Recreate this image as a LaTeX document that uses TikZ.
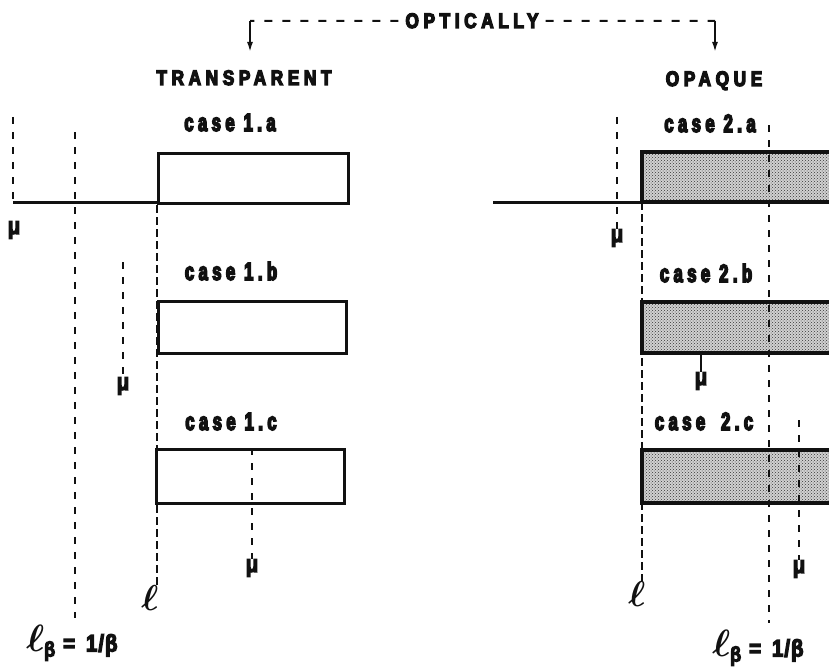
\RequirePackage{fix-cm}
\documentclass[tikz,border=0pt]{standalone}
\usepackage{amsmath,bm}
\usepackage{fontspec}
\usetikzlibrary{arrows.meta,positioning,patterns}
\newfontfamily\headfont{Liberation Sans}[UprightFont=* Bold, FakeStretch=0.82,
  LetterSpace=22, FakeBold=6]
\newfontfamily\casefont{Liberation Sans}[UprightFont=* Bold, FakeStretch=0.66,
  LetterSpace=18, FakeBold=6]
\newfontfamily\symfont{Liberation Sans}[UprightFont=* Bold, FakeStretch=0.85,
  FakeBold=5]
\definecolor{cInk}{HTML}{111111}
\tikzset{
  every picture/.style={line width=0.5pt},
  headlbl/.style={font=\headfont\fontsize{21}{21}\selectfont, text=cInk,
                  inner sep=0pt, anchor=base},
  caselbl/.style={font=\casefont\fontsize{25}{25}\selectfont, text=cInk,
                  inner sep=0pt, anchor=base},
  mulbl/.style={font=\symfont\fontsize{24}{24}\selectfont, text=cInk, inner sep=0pt},
  elllbl/.style={font=\fontsize{36}{36}\selectfont, text=cInk, inner sep=0pt},
  slab/.style={draw=cInk, line width=3.4pt, inner sep=0pt, fill=white},
  shaded/.style={pattern=crosshatch dots, pattern color=cInk!85},
  axisline/.style={draw=cInk, line width=3pt},
  guide/.style={draw=cInk, line width=2pt, dash pattern=on 7pt off 8pt},
  topguide/.style={guide, dash pattern=on 8pt off 10pt},
  lguide/.style={draw=cInk, line width=2.2pt, dash pattern=on 8pt off 4pt},
  pointer/.style={draw=cInk, line width=1.8pt, -{Latex[length=10pt,width=6pt]}},
}
\def\lbeta{{\fontsize{38}{38}\selectfont$\bm{\ell}$}%
  \raisebox{-5pt}{\symfont\fontsize{21}{21}\selectfont β}%
  {\symfont\fontsize{24}{24}\selectfont\hspace{8pt}=\hspace{11pt}1\hspace{1pt}/\hspace{1pt}β}}

\begin{document}
\begin{tikzpicture}[x=1pt,y=-1pt]
\useasboundingbox (0,0) rectangle (829,666);

% ---------------------------------------------- heading
\node[headlbl] (optic)  at (472,28) {OPTICALLY};
\node[headlbl] (transp) at (244,85) {TRANSPARENT};
\node[headlbl] (opaque) at (714,86) {OPAQUE};
\coordinate (lcorner) at (250,21); \coordinate (ltip) at (250,52);
\coordinate (rcorner) at (715,21); \coordinate (rtip) at (715,52);
\draw[topguide] ([xshift=-7pt]optic.west) -- (lcorner);
\draw[topguide] ([xshift=7pt]optic.east) -- (rcorner);
\draw[pointer] (lcorner) -- (ltip);
\draw[pointer] (rcorner) -- (rtip);

% ---------------------------------------------- left: transparent
\node[caselbl] (c1a) at (230,131) {case 1.a};
\node[caselbl] (c1b) at (231,280) {case 1.b};
\node[caselbl] (c1c) at (231,430) {case 1.c};

\draw[guide] (75,132) -- (75,618);
\draw[axisline] (13,202) -- (157,202);
\node[slab, anchor=north west, minimum width=190pt, minimum height=50pt] (b1a) at (157,152) {};
\node[slab, anchor=north west, minimum width=188pt, minimum height=52pt] (b1b) at (157,300) {};
\node[slab, anchor=north west, minimum width=188pt, minimum height=54pt] (b1c) at (155,448) {};

\node[mulbl] (mu1a) at (14,230) {μ};
\node[mulbl] (mu1b) at (123,386) {μ};
\node[mulbl] (mu1c) at (252,568) {μ};
\node[elllbl] (ell1) at (150,598) {$\bm{\ell}$};
\node[anchor=west, inner sep=0pt, text=cInk] (lb1) at (26,643) {\lbeta};

\draw[guide] (13,117) -- (13,202);
\draw[guide] (123,262) -- (mu1b);
\draw[guide] (b1c.north west -| mu1c) -- (mu1c);
\draw[lguide] (b1a.south west) -- (b1a.south west |- ell1.north);

% ---------------------------------------------- right: opaque
\node[caselbl] (c2a) at (710,132) {case 2.a};
\node[caselbl] (c2b) at (706,282) {case 2.b};
\node[caselbl] (c2c) at (704,430) {case\; 2.c};

\draw[axisline] (493,202) -- (642,202);
\foreach \top/\bot in {152/202, 302/353, 450/503}{
  \fill[black!18] (642,\top) rectangle (840,\bot);
  \fill[shaded] (642,\top) rectangle (840,\bot);
  \draw[slab, fill=none] (840,\top) -- (642,\top) -- (642,\bot) -- (840,\bot);
}

\node[mulbl] (mu2a) at (617,238) {μ};
\node[mulbl] (mu2b) at (701,381) {μ};
\node[mulbl] (mu2c) at (799,569) {μ};
\node[elllbl] (ell2) at (637,594) {$\bm{\ell}$};
\node[anchor=west, inner sep=0pt, text=cInk] (lb2) at (712,648) {\lbeta};

\draw[guide] (617,117) -- (mu2a);
\draw[guide] (769,125) -- (769,623);
\draw[draw=cInk, line width=2pt] (701,353) -- (mu2b);
\draw[guide] (799,420) -- (mu2c);
\draw[lguide] (642,202) -- (642,202 |- ell2.north);

\end{tikzpicture}
\end{document}
